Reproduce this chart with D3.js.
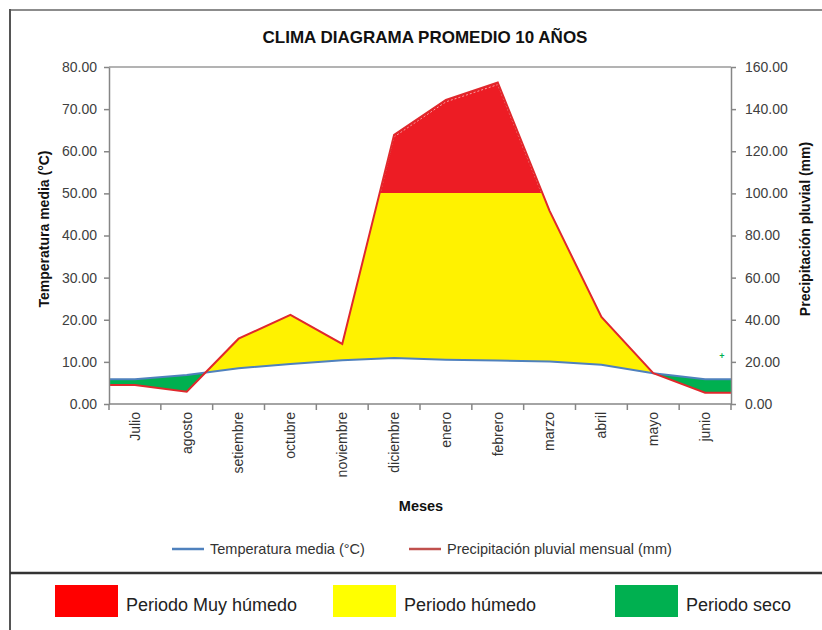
<!DOCTYPE html>
<html><head><meta charset="utf-8">
<script src="https://cdn.jsdelivr.net/npm/d3@7"></script>
<style>
html,body{margin:0;padding:0;background:#fff;}
svg{display:block;font-family:"Liberation Sans",Arial,sans-serif;}
</style></head>
<body>
<svg id="chart" width="822" height="630"></svg>
<script>
const months = ["Julio","agosto","setiembre","octubre","noviembre","diciembre","enero","febrero","marzo","abril","mayo","junio"];
const temperature = [5.9, 6.9, 8.5, 9.5, 10.4, 10.9, 10.5, 10.3, 10.1, 9.3, 7.3, 5.9];
const precipitation = [9.0, 5.8, 31.0, 42.3, 28.5, 127.8, 144.4, 152.6, 91.7, 41.3, 14.6, 5.4];
const leftTicks = [0,10,20,30,40,50,60,70,80];
const rightTicks = [0,20,40,60,80,100,120,140,160];
const humidLimit = 100; // mm
const title = "CLIMA DIAGRAMA PROMEDIO 10 AÑOS";

const svg = d3.select("#chart");
const L = 109, R = 731, T = 67, B = 404;
const x = d3.scaleBand().domain(months).range([L, R]);
const yL = d3.scaleLinear().domain([0, 80]).range([B, T]);
const yR = d3.scaleLinear().domain([0, 160]).range([B, T]);
const cx = m => x(m) + x.bandwidth() / 2;

// series with flat extensions to the plot edges
const pts = months.map((m, i) => ({px: cx(m), t: temperature[i], p: precipitation[i]}));
const series = [{px: x.range()[0], t: temperature[0], p: precipitation[0]}, ...pts,
  {px: x.range()[1], t: temperature[11], p: precipitation[11]}];

// frame
svg.append("line").attr("x1",10).attr("x2",822).attr("y1",10).attr("y2",10).attr("stroke","#8c8c8c").attr("stroke-width",2);
svg.append("line").attr("x1",10).attr("x2",10).attr("y1",9).attr("y2",630).attr("stroke","#555").attr("stroke-width",2);
svg.append("line").attr("x1",10).attr("x2",822).attr("y1",573).attr("y2",573).attr("stroke","#333").attr("stroke-width",2.5);

// title
svg.append("text").attr("x",425).attr("y",43).attr("text-anchor","middle")
  .attr("font-weight","bold").attr("font-size",17).attr("fill","#111").text(title);

const hY = Math.floor(yR(humidLimit));
const defs = svg.append("defs");
defs.append("clipPath").attr("id","aboveT").append("path")
  .attr("d", d3.area().x(d=>d.px).y0(d=>yL(d.t)).y1(hY - 1)(series));
defs.append("clipPath").attr("id","belowT").append("path")
  .attr("d", d3.area().x(d=>d.px).y0(yL(0)).y1(d=>yL(d.t))(series));
defs.append("clipPath").attr("id","aboveH").append("rect")
  .attr("x", L).attr("y", T - 5).attr("width", R - L).attr("height", hY - T + 5);

const between = d3.area().x(d=>d.px).y0(d=>yL(d.t)).y1(d=>yR(d.p));
svg.append("path").attr("d", between(series)).attr("fill","#FFF200").attr("clip-path","url(#aboveT)");
svg.append("path").attr("d", between(series)).attr("fill","#00B050").attr("clip-path","url(#belowT)");
svg.append("path").attr("d", d3.area().x(d=>d.px).y0(hY + 2).y1(d=>yR(d.p))(series))
  .attr("fill","#ED1C24").attr("clip-path","url(#aboveH)");
// light dashed outline inside red area
svg.append("path").attr("d", d3.line().x(d=>d.px).y(d=>yR(d.p)+2)(series))
  .attr("fill","none").attr("stroke","#f6c9c9").attr("stroke-width",0.8).attr("stroke-dasharray","2,2")
  .attr("clip-path","url(#aboveH)");

// lines
svg.append("path").attr("d", d3.line().x(d=>d.px).y(d=>yL(d.t))(series))
  .attr("fill","none").attr("stroke","#4F81BD").attr("stroke-width",2);
svg.append("path").attr("d", d3.line().x(d=>d.px).y(d=>yR(d.p))(series))
  .attr("fill","none").attr("stroke","#E0282C").attr("stroke-width",2);

// stray marker
svg.append("text").attr("x",722).attr("y",359).attr("text-anchor","middle").attr("font-size",9)
  .attr("fill","#00B050").attr("font-weight","bold").text("+");

// axes
const axisColor = "#868686";
svg.append("line").attr("x1",L).attr("x2",R).attr("y1",T).attr("y2",T).attr("stroke","#9a9a9a").attr("stroke-width",1.5);
const gl = svg.append("g").attr("transform",`translate(${L},0)`)
  .call(d3.axisLeft(yL).tickValues(leftTicks).tickFormat(d3.format(".2f")).tickSize(5).tickSizeOuter(0).tickPadding(7));
const gr = svg.append("g").attr("transform",`translate(${R},0)`)
  .call(d3.axisRight(yR).tickValues(rightTicks).tickFormat(d3.format(".2f")).tickSize(5).tickSizeOuter(0).tickPadding(9));
[gl, gr].forEach(g => {
  g.selectAll("path,line").attr("stroke", axisColor).attr("stroke-width",1.5);
  g.selectAll("text").attr("font-size",14).attr("fill","#404040").attr("font-family","'Liberation Sans',Arial,sans-serif");
});
// x axis
svg.append("line").attr("x1",L).attr("x2",R).attr("y1",B).attr("y2",B).attr("stroke",axisColor).attr("stroke-width",1.5);
const bounds = months.map(m => x(m)).concat([x.range()[1]]);
svg.selectAll(".xt").data(bounds).enter().append("line")
  .attr("x1",d=>d).attr("x2",d=>d).attr("y1",B).attr("y2",B+6).attr("stroke",axisColor).attr("stroke-width",1.5);
svg.selectAll(".xl").data(months).enter().append("text")
  .attr("transform", d => `translate(${cx(d)},${B+8}) rotate(-90)`)
  .attr("text-anchor","end").attr("dy","0.35em").attr("font-size",14).attr("fill","#333").text(d=>d);

// axis titles
svg.append("text").attr("transform","translate(49,229) rotate(-90)").attr("text-anchor","middle")
  .attr("font-weight","bold").attr("font-size",14).attr("fill","#111").text("Temperatura media (°C)");
svg.append("text").attr("transform","translate(810,229) rotate(-90)").attr("text-anchor","middle")
  .attr("font-weight","bold").attr("font-size",14).attr("fill","#111").text("Precipitación pluvial (mm)");
svg.append("text").attr("x",421).attr("y",511).attr("text-anchor","middle")
  .attr("font-weight","bold").attr("font-size",14.5).attr("fill","#111").text("Meses");

// line legend
const lineLegend = [
  {label:"Temperatura media (°C)", color:"#4F81BD", x:172},
  {label:"Precipitación pluvial mensual (mm)", color:"#C0504D", x:409}
];
lineLegend.forEach(d => {
  svg.append("line").attr("x1",d.x).attr("x2",d.x+32).attr("y1",549).attr("y2",549).attr("stroke",d.color).attr("stroke-width",2.5);
  svg.append("text").attr("x",d.x+38).attr("y",554).attr("font-size",14.5).attr("fill","#333").text(d.label);
});

// period legend
const periodLegend = [
  {label:"Periodo Muy húmedo", color:"#FF0000", x:55},
  {label:"Periodo húmedo", color:"#FFFF00", x:333},
  {label:"Periodo seco", color:"#00B050", x:615}
];
periodLegend.forEach(d => {
  svg.append("rect").attr("x",d.x).attr("y",585).attr("width",63).attr("height",32).attr("fill",d.color);
  svg.append("text").attr("x",d.x+71).attr("y",611).attr("font-size",18).attr("fill","#222").text(d.label);
});
</script>
</body></html>
